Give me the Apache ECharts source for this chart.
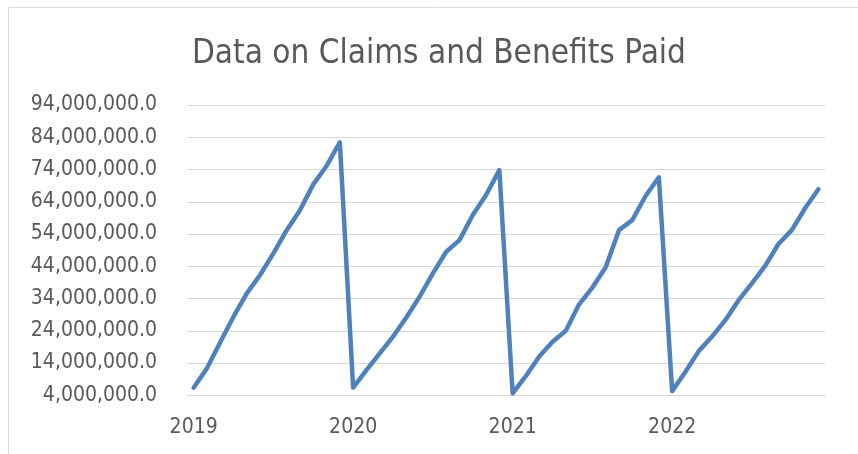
<!DOCTYPE html>
<html>
<head>
<meta charset="utf-8">
<script src="https://cdn.jsdelivr.net/npm/echarts@6/dist/echarts.min.js"></script>
<style>
html,body{margin:0;padding:0;background:#fff;}
#chart{width:858px;height:454px;}
</style>
</head>
<body>
<div id="chart"></div>
<script>
var titleText = 'Data on Claims and Benefits Paid';
var years = ['2019', '2020', '2021', '2022'];
var months = ['01','02','03','04','05','06','07','08','09','10','11','12'];
var claimsPaid = [
  6360000, 12370000, 20430000, 28370000, 35600000, 41300000, 48000000, 55200000, 61400000, 69400000, 75100000, 82400000,
  6400000, 11800000, 17000000, 22200000, 28100000, 34600000, 41800000, 48500000, 52100000, 59900000, 66100000, 73800000,
  4600000, 10000000, 16000000, 20600000, 24000000, 32200000, 37400000, 43700000, 55200000, 58300000, 65800000, 71600000,
  5300000, 11300000, 17700000, 22200000, 27300000, 33500000, 38700000, 44100000, 50900000, 55200000, 62000000, 67900000
];
var yMin = 4000000, yMax = 94000000, yStep = 10000000;

var categories = [];
years.forEach(function (y) { months.forEach(function (m) { categories.push(y + '-' + m); }); });

var font = "'DejaVu Sans Condensed', 'DejaVu Sans', sans-serif";
var chart = echarts.init(document.getElementById('chart'));
chart.setOption({
  animation: false,
  backgroundColor: '#ffffff',
  title: {
    text: titleText,
    left: 187,
    top: 33,
    textStyle: { fontFamily: font, fontSize: 33, fontWeight: 'normal', color: '#595959' }
  },
  graphic: [{
    type: 'rect',
    shape: { x: 8.5, y: 7.5, width: 860, height: 460 },
    style: { fill: 'none', stroke: '#d9d9d9', lineWidth: 1 },
    silent: true
  }],
  grid: { left: 187, right: 33, top: 105, bottom: 58.7, containLabel: false },
  xAxis: {
    type: 'category',
    data: categories,
    boundaryGap: true,
    axisLine: { show: true, lineStyle: { color: '#d9d9d9', width: 1 } },
    axisTick: { show: false },
    axisLabel: {
      interval: function (index) { return index % 12 === 0; },
      formatter: function (v) { return v.slice(0, 4); },
      fontFamily: font, fontSize: 21, color: '#595959', margin: 22
    },
    splitLine: { show: false }
  },
  yAxis: {
    type: 'value',
    min: yMin, max: yMax, interval: yStep,
    axisLine: { show: false },
    axisTick: { show: false },
    axisLabel: {
      formatter: function (v) { return v.toLocaleString('en-US') + '.0'; },
      fontFamily: font, fontSize: 21, color: '#595959', margin: 30
    },
    splitLine: { lineStyle: { color: '#d9d9d9', width: 1 } }
  },
  series: [{
    type: 'line',
    data: claimsPaid,
    showSymbol: false,
    symbol: 'none',
    lineStyle: { color: '#4f81bd', width: 4.5, cap: 'round', join: 'round' },
    itemStyle: { color: '#4f81bd' }
  }]
});
</script>
</body>
</html>
